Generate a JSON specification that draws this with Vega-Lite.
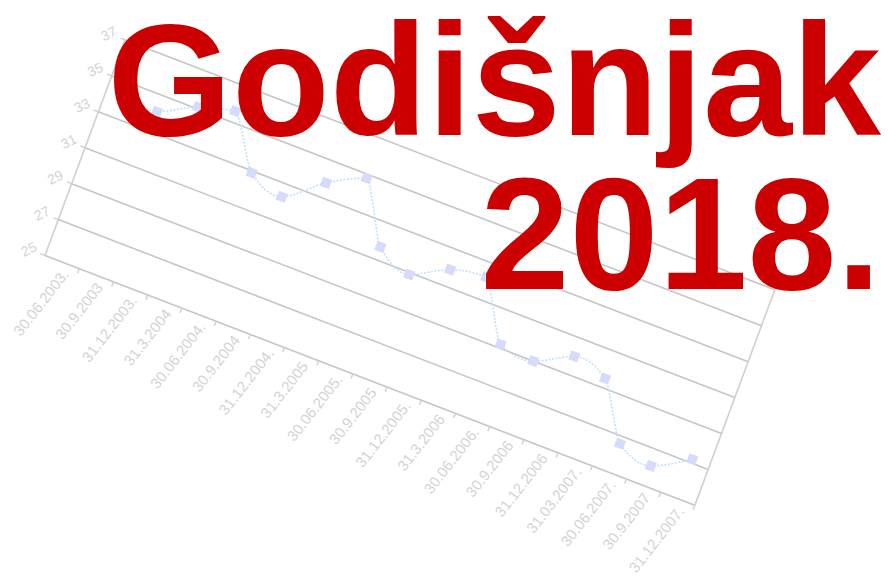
{
  "$schema": "https://vega.github.io/schema/vega-lite/v6.json",
  "width": 890,
  "height": 585,
  "autosize": {"type": "none"},
  "padding": 0,
  "background": "white",
  "config": {"view": {"stroke": null}},
  "title": {
    "text": ["Godišnjak", "2018."],
    "orient": "top",
    "anchor": "end",
    "frame": "group",
    "align": "right",
    "font": "Liberation Sans",
    "fontSize": 160,
    "fontWeight": "bold",
    "color": "#cc0000",
    "lineHeight": 154,
    "offset": -323,
    "dx": -9
  },
  "datasets": {
    "series": [
      {"date": "30.06.2003.", "i": 0, "value": 34.7},
      {"date": "30.9.2003", "i": 1, "value": 34.1},
      {"date": "31.12.2003.", "i": 2, "value": 35.1},
      {"date": "31.3.2004", "i": 3, "value": 35.6},
      {"date": "30.06.2004.", "i": 4, "value": 32.9},
      {"date": "30.9.2004", "i": 5, "value": 32.3},
      {"date": "31.12.2004.", "i": 6, "value": 33.8},
      {"date": "31.3.2005", "i": 7, "value": 34.8},
      {"date": "30.06.2005.", "i": 8, "value": 31.7},
      {"date": "30.9.2005", "i": 9, "value": 30.9},
      {"date": "31.12.2005.", "i": 10, "value": 31.9},
      {"date": "31.3.2006", "i": 11, "value": 32.2},
      {"date": "30.06.2006.", "i": 12, "value": 29.2},
      {"date": "30.9.2006", "i": 13, "value": 29.0},
      {"date": "31.12.2006", "i": 14, "value": 30.0},
      {"date": "31.03.2007.", "i": 15, "value": 29.5},
      {"date": "30.06.2007.", "i": 16, "value": 26.6},
      {"date": "30.9.2007", "i": 17, "value": 26.1},
      {"date": "31.12.2007.", "i": 18, "value": 27.2}
    ],
    "levels": [
      {"level": 25}, {"level": 27}, {"level": 29}, {"level": 31},
      {"level": 33}, {"level": 35}, {"level": 37}
    ]
  },
  "layer": [
    {
      "data": {"name": "levels"},
      "transform": [
        {"calculate": "45 + (datum.level - 25) * 6.667", "as": "gx1"},
        {"calculate": "255.5 - (datum.level - 25) * 17.96", "as": "gy1"},
        {"calculate": "datum.gx1 + 19 * 34.2", "as": "gx2"},
        {"calculate": "datum.gy1 + 19 * 13.15", "as": "gy2"}
      ],
      "mark": {"type": "rule", "color": "#c6c6c6", "strokeWidth": 1.6},
      "encoding": {
        "x": {"field": "gx1", "type": "quantitative", "scale": {"domain": [0, 890], "nice": false, "zero": false}, "axis": null},
        "y": {"field": "gy1", "type": "quantitative", "scale": {"domain": [0, 585], "nice": false, "zero": false, "reverse": true}, "axis": null},
        "x2": {"field": "gx2"},
        "y2": {"field": "gy2"}
      }
    },
    {
      "data": {"name": "levels"},
      "transform": [
        {"calculate": "45 + (datum.level - 25) * 6.667", "as": "gx1"},
        {"calculate": "255.5 - (datum.level - 25) * 17.96", "as": "gy1"},
        {"calculate": "datum.gx1 - 4.7", "as": "tx2"},
        {"calculate": "datum.gy1 - 1.8", "as": "ty2"}
      ],
      "mark": {"type": "rule", "color": "#d0d0d0", "strokeWidth": 1.4},
      "encoding": {
        "x": {"field": "gx1", "type": "quantitative", "axis": null},
        "y": {"field": "gy1", "type": "quantitative", "axis": null},
        "x2": {"field": "tx2"},
        "y2": {"field": "ty2"}
      }
    },
    {
      "data": {"name": "levels"},
      "transform": [
        {"calculate": "45 + (datum.level - 25) * 6.667 - 16", "as": "lx"},
        {"calculate": "255.5 - (datum.level - 25) * 17.96 - 5.5", "as": "ly"}
      ],
      "mark": {"type": "text", "font": "Liberation Sans", "fontSize": 14, "color": "#d4d4d4", "align": "center", "baseline": "middle", "angle": 335},
      "encoding": {
        "x": {"field": "lx", "type": "quantitative", "axis": null},
        "y": {"field": "ly", "type": "quantitative", "axis": null},
        "text": {"field": "level", "type": "quantitative"}
      }
    },
    {
      "data": {"name": "series"},
      "transform": [
        {"filter": "datum.i == 0 || datum.i == 18"},
        {"calculate": "datum.i == 0 ? -0.5 : 18.5", "as": "e"},
        {"calculate": "45 + (datum.e + 0.5) * 34.2", "as": "fx1"},
        {"calculate": "255.5 + (datum.e + 0.5) * 13.15", "as": "fy1"},
        {"calculate": "datum.fx1 + 12 * 6.667", "as": "fx2"},
        {"calculate": "datum.fy1 - 12 * 17.96", "as": "fy2"}
      ],
      "mark": {"type": "rule", "color": "#d0d0d0", "strokeWidth": 1.6},
      "encoding": {
        "x": {"field": "fx1", "type": "quantitative", "axis": null},
        "y": {"field": "fy1", "type": "quantitative", "axis": null},
        "x2": {"field": "fx2"},
        "y2": {"field": "fy2"}
      }
    },
    {
      "data": {"name": "series"},
      "transform": [
        {"calculate": "45 + (datum.i + 1) * 34.2", "as": "tx"},
        {"calculate": "255.5 + (datum.i + 1) * 13.15", "as": "ty"},
        {"calculate": "datum.tx - 1.7", "as": "tx2"},
        {"calculate": "datum.ty + 4.7", "as": "ty2"}
      ],
      "mark": {"type": "rule", "color": "#d0d0d0", "strokeWidth": 1.4},
      "encoding": {
        "x": {"field": "tx", "type": "quantitative", "axis": null},
        "y": {"field": "ty", "type": "quantitative", "axis": null},
        "x2": {"field": "tx2"},
        "y2": {"field": "ty2"}
      }
    },
    {
      "data": {"name": "series"},
      "transform": [
        {"calculate": "45 + (datum.i + 0.5) * 34.2 + 3.5", "as": "lx"},
        {"calculate": "255.5 + (datum.i + 0.5) * 13.15 + 9.5", "as": "ly"}
      ],
      "mark": {"type": "text", "font": "Liberation Sans", "fontSize": 15, "color": "#d4d4d4", "align": "right", "baseline": "middle", "angle": 308},
      "encoding": {
        "x": {"field": "lx", "type": "quantitative", "axis": null},
        "y": {"field": "ly", "type": "quantitative", "axis": null},
        "text": {"field": "date", "type": "nominal"}
      }
    },
    {
      "data": {"name": "series"},
      "transform": [
        {"calculate": "45 + (datum.i + 0.5) * 34.2 + (datum.value - 25) * 6.667", "as": "px"},
        {"calculate": "255.5 + (datum.i + 0.5) * 13.15 - (datum.value - 25) * 17.96", "as": "py"}
      ],
      "mark": {"type": "line", "color": "#c2e0f9", "strokeWidth": 1.6, "strokeDash": [2, 1.5], "interpolate": "monotone"},
      "encoding": {
        "x": {"field": "px", "type": "quantitative", "axis": null},
        "y": {"field": "py", "type": "quantitative", "axis": null},
        "order": {"field": "i", "type": "quantitative"}
      }
    },
    {
      "data": {"name": "series"},
      "transform": [
        {"calculate": "45 + (datum.i + 0.5) * 34.2 + (datum.value - 25) * 6.667", "as": "px"},
        {"calculate": "255.5 + (datum.i + 0.5) * 13.15 - (datum.value - 25) * 17.96", "as": "py"}
      ],
      "mark": {"type": "point", "shape": "square", "filled": true, "size": 90, "angle": 20, "color": "#d4dbfb", "opacity": 1},
      "encoding": {
        "x": {"field": "px", "type": "quantitative", "axis": null},
        "y": {"field": "py", "type": "quantitative", "axis": null}
      }
    }
  ]
}
